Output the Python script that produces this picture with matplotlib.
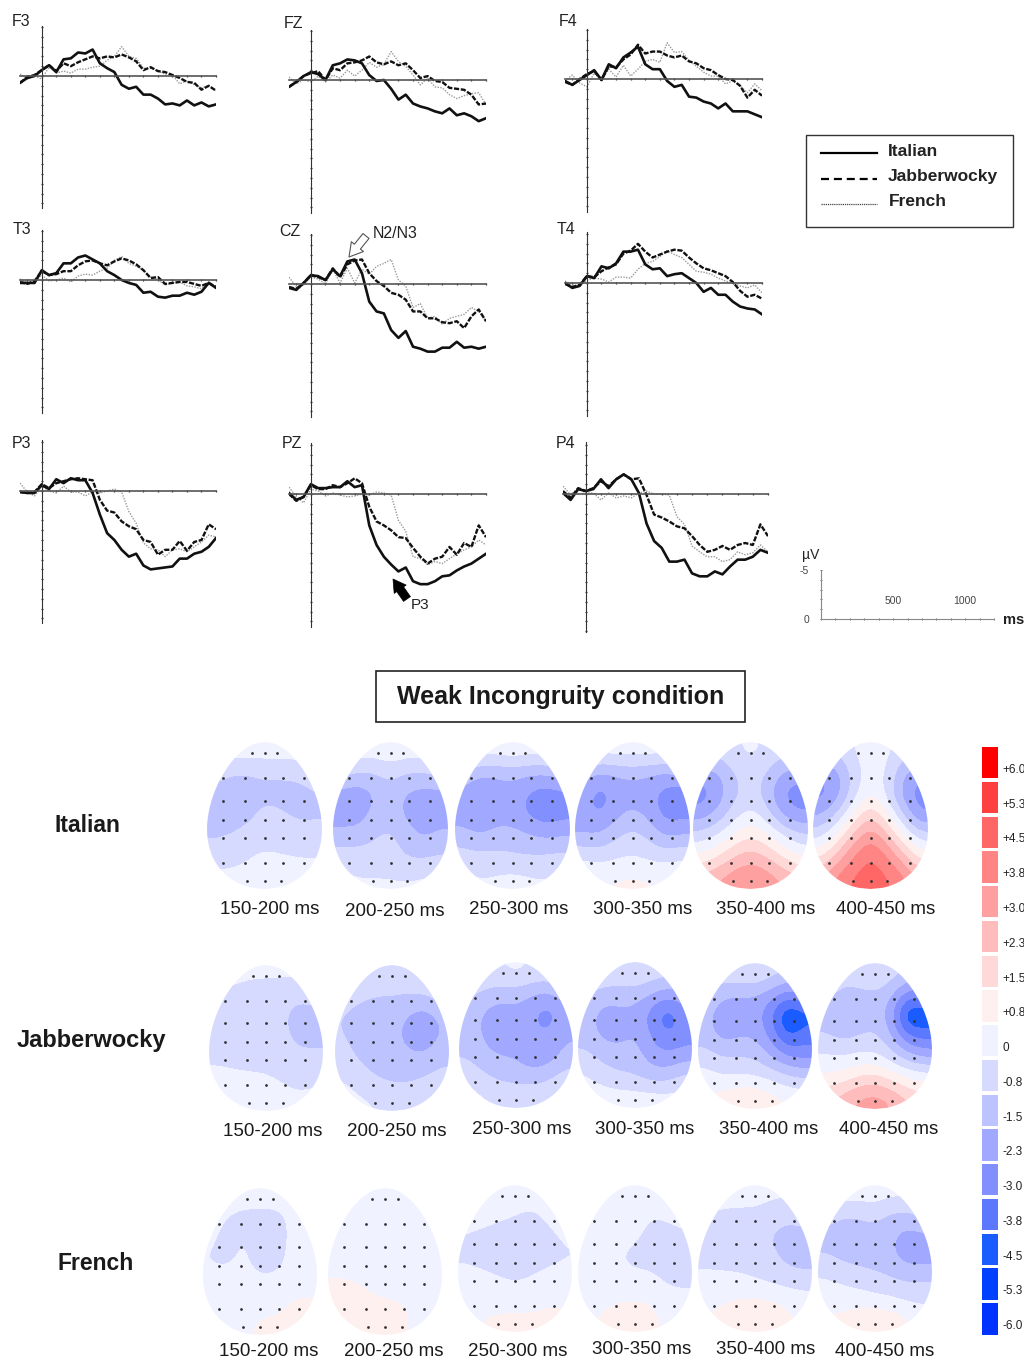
import numpy as np
import matplotlib
matplotlib.use("Agg")
import matplotlib.pyplot as plt
from matplotlib.colors import BoundaryNorm, ListedColormap
from matplotlib.patches import Polygon, Rectangle

plt.rcParams['font.family'] = ['Liberation Sans', 'DejaVu Sans']

# ERP samples, one every 50 ms from -150 to 1200 ms, in microvolt (negative is up)
TIMES = np.arange(-150, 1201, 50)

F3_ITALIAN = [.7, .2, 0, -.6, -1.1, -.4, -1.7, -1.8, -2.4, -2.3, -2.7, -1.3, -.8, -.4, .9, 1.3, 1.1, 1.9, 1.9, 2.3, 2.9, 2.8, 3, 2.5, 3, 2.7, 3.1, 2.9]
F3_JABBER = [.7, .1, -.1, -.6, -1.1, -.5, -1.3, -1, -1.4, -1.7, -2, -1.8, -2, -1.9, -2.2, -1.9, -1.5, -.6, -.9, -.5, -.4, -.1, .2, .6, .7, 1.4, 1, 1.5]
F3_FRENCH = [-.2, .3, 0, .3, -.9, -.3, -.5, -.3, -.7, -.7, -.9, -1, -1.6, -2, -3, -2, -1.8, -.8, -.8, -.5, -.2, -.1, .8, .5, .9, 1.2, 1, 1.5]

FZ_ITALIAN = [.7, .2, -.4, -.8, -.6, 0, -1.5, -1.7, -2.1, -2, -1.7, -.5, .1, 0, .9, 2, 1.5, 2.4, 2.7, 2.9, 3.2, 3.4, 2.9, 3.6, 3.4, 3.7, 4.2, 3.9]
FZ_JABBER = [.7, .2, -.4, -.7, -.9, 0, -1.2, -1, -1.7, -1.8, -2, -2.4, -1.8, -1.6, -1.9, -1.5, -1.7, -1, -.2, -.4, .1, .2, .8, .9, 1, 1.5, 2.5, 2.4]
FZ_FRENCH = [-.3, .4, 0, .2, -.4, .2, -.5, -.2, -1, -.4, -1, -1.8, -1.3, -1.6, -2.9, -1.9, -1.4, -.5, .5, -.2, .7, .8, 1.5, 1.9, 1.6, 1.4, 1.3, 2.5]

F4_ITALIAN = [.2, .6, .1, -.4, -.9, .1, -1.5, -1.1, -2.2, -2.7, -3.3, -1.5, -1, -1, .2, .8, .6, 1.8, 1.9, 2.3, 2.5, 3, 2.5, 3.3, 3.3, 3.3, 3.6, 3.9]
F4_JABBER = [.3, .6, 0, -.5, -.8, .1, -1.3, -1.2, -2, -2.5, -3.5, -2.6, -2.8, -2.8, -2.4, -2.2, -2.4, -1.8, -1.6, -1.1, -.9, -.4, 0, .1, .7, 1.9, 1.1, 1.7]
F4_FRENCH = [.2, -.4, .4, .8, -.6, .1, -1, -.2, -1.4, -.3, -1, -1.8, -2, -1.7, -3.7, -2.7, -2.8, -1.9, -1.3, -.7, -.3, -.3, .5, .2, .7, 1.4, .5, 1.2]

T3_ITALIAN = [.3, .3, .3, -1, -.5, -.7, -1.7, -1.7, -2.3, -2.5, -2.1, -1.7, -.9, -.5, 0, .3, .5, 1.3, 1.2, 1.7, 1.8, 1.6, 1.6, 1.3, 1.5, 1.2, .3, .8]
T3_JABBER = [.2, .4, .1, -.9, -.5, -.6, -.9, -.9, -1.5, -1.9, -2, -1.7, -1.5, -1.9, -2.2, -2, -1.6, -1, -.2, -.3, .4, .3, .2, .2, .4, .6, .3, .7]
T3_FRENCH = [-.1, .3, .1, -.5, .1, 0, -.2, .2, -.4, -.6, -.5, -.9, -1.2, -2, -2.4, -1.7, -1.4, -1, -.3, 0, .5, .3, .2, .6, .7, .9, .2, .9]

CZ_ITALIAN = [.4, .6, -.1, -.9, -.8, -.4, -1.5, -.8, -2.3, -2.5, -1.1, 1.8, 2.8, 3, 4.7, 5.5, 4.8, 6.4, 6.6, 6.9, 6.9, 6.5, 6.5, 5.9, 6.5, 6.4, 6.6, 6.4]
CZ_JABBER = [.3, .5, -.1, -.9, -.7, -.4, -1.6, -.7, -2, -2.4, -2.5, -1.1, -.3, .2, .9, 1.1, 1.6, 2.8, 2.8, 3.5, 3.5, 3.9, 4, 3.8, 4.5, 3.3, 2.6, 3.8]
CZ_FRENCH = [-.7, .3, .1, -.7, -.5, 0, -1.5, -.1, -1.6, -.1, -1.5, -1, -1.8, -2.1, -2.5, -.4, .2, 2.4, 2, 3.5, 3.3, 4.1, 3.5, 3.3, 3.1, 2.4, 2.8, 3.8]

T4_ITALIAN = [0, .5, .3, -.7, -.5, -1.7, -1.5, -2, -3.2, -3.2, -3.4, -1.9, -1.4, -1.5, -.7, -.9, -1, -.5, 0, .9, .5, 1.2, 1.2, 1.9, 2.4, 2.6, 2.7, 3.2]
T4_JABBER = [.1, .4, .2, -.7, -.6, -1.2, -1.6, -1.9, -3, -3.3, -4, -3.2, -2.6, -2.9, -3.2, -3.4, -3.3, -2.6, -2, -1.5, -1.3, -1, -.7, -.1, .8, 1.4, 1.2, 1.6]
T4_FRENCH = [-.2, .2, .3, -.3, -.5, -.4, -.1, -.6, -.6, -.5, -1.4, -2, -2.2, -2.7, -3.3, -2.9, -2.6, -1.9, -1.2, -1.1, -.9, -.5, -.2, 0, .3, .5, .2, 1]

P3_ITALIAN = [.1, .2, .2, -.6, -.2, -1.2, -.8, -1.3, -1.1, -1.1, .2, 2.4, 4.3, 5, 6, 6.7, 6.4, 7.6, 8, 7.9, 7.8, 7.7, 6.9, 6.9, 6.4, 6.2, 5.7, 4.8]
P3_JABBER = [.1, .2, .1, -.7, -.3, -.8, -1, -1.2, -1.3, -1.2, -1.1, .9, 2, 2.2, 3.1, 3.6, 3.9, 5, 5.2, 6.5, 6, 6, 5.1, 6.1, 5.2, 5, 3.4, 3.9]
P3_FRENCH = [-.8, .1, .5, -.5, 0, .2, -.5, .1, .1, .5, .1, .2, 0, -.2, .1, 2.1, 3.3, 5.3, 5.9, 6, 6.7, 6, 5.9, 6.2, 5.7, 5.2, 4.5, 4.7]

PZ_ITALIAN = [-.1, .6, .3, -1, -.6, -.6, -.7, -.7, -1.3, -.7, -.9, 3.2, 5.2, 6.4, 7.2, 7.9, 7.5, 8.9, 9.2, 9.2, 8.9, 8.4, 8.3, 7.8, 7.4, 7.1, 6.6, 6.1]
PZ_JABBER = [0, .7, .3, -.9, -.5, -.5, -.9, -.7, -1.1, -1.6, -1.1, 1.3, 2.8, 3.2, 3.7, 4.4, 4.5, 5.5, 6.4, 7.1, 6.6, 6.4, 5.4, 6.2, 5, 5.4, 3.2, 4.4]
PZ_FRENCH = [-.7, .3, .9, -.5, -.3, .2, -.1, .1, .3, .2, 0, .1, -.2, -.1, .1, 2.7, 3.8, 6.4, 6.6, 7.2, 6.9, 7.1, 6.6, 6.1, 5.7, 5.4, 4.7, 5.2]

P4_ITALIAN = [-.1, .6, -.5, -.3, -.5, -1.5, -.6, -1.5, -2, -1.5, -.1, 3, 4.8, 5.5, 6.9, 6.9, 6.7, 8.1, 8.4, 8.4, 7.9, 8.2, 7.4, 6.7, 6.7, 6.4, 5.7, 6]
P4_JABBER = [-.3, .4, -.6, -.3, -.6, -1.3, -.8, -1.5, -2, -1.5, -1.6, .1, 2.1, 2.4, 2.8, 3.3, 3.5, 4.3, 5.2, 5.9, 5.7, 5.3, 5.7, 5.2, 5, 5.2, 3.1, 4.3]
P4_FRENCH = [-.8, .1, -.6, -.1, -.1, .6, -.1, .4, .2, .4, -.1, -.3, 0, 0, .1, 2.3, 3.1, 5.3, 5.9, 6.4, 6.4, 6.9, 6.7, 5.9, 6.2, 6, 5.2, 5.9]

# scalp maps, in colour steps of the scale (one step is about 0.75 microvolt)
IT_150 = [[0, 0, 0, 0, 0, 0, 0], [-1.2, -1.6, -1.6, -1.4, -1.4, -1.3, -1], [-1.8, -2, -2, -1.8, -1.9, -1.9, -1.6], [-1.9, -2.1, -1.8, -1.1, -1.3, -1.7, -1.7], [-1.6, -1.4, -1, -1, -1, -1, -1], [-1, -.9, -.6, -.2, -.4, -.5, -.5], [-.1, -.1, 0, .2, .2, 0, -.1]]
IT_200 = [[0, 0, 0, .2, 0, 0, 0], [-1, -1.6, -1.6, -1.1, -1.6, -1.6, -1.2], [-3.1, -3.3, -2.6, -2, -2.7, -3, -3], [-3.1, -3.1, -2.1, -1.9, -2.8, -3.1, -3], [-2, -2, -1.6, -1.2, -2, -2.7, -2.2], [-1, -1, -1, -1, -1.6, -1.6, -1.4], [-.2, -.4, -.4, -.4, -.4, -.3, -.2]]
IT_250 = [[0, 0, 0, .2, 0, 0, 0], [-1.5, -2.4, -2.5, -2.2, -2.5, -2.5, -2], [-3, -3.8, -3, -3, -3.7, -4.2, -3.9], [-3, -3.6, -3, -3, -3.7, -4.2, -3.9], [-2, -2.4, -2, -2, -2.3, -2.6, -2.4], [-1, -1.2, -1.2, -1.4, -1.4, -1.3, -1.2], [-.2, -.4, -.3, -.1, -.3, -.4, -.2]]
IT_300 = [[0, 0, 0, 0, 0, 0, 0], [-2, -2.8, -2.5, -2.2, -2.5, -2.8, -2.2], [-3, -4.2, -3.2, -3.2, -3.2, -4, -4.4], [-3.2, -3.6, -2.8, -2, -2.8, -4, -3.8], [-2.4, -2.4, -1.6, -1.1, -1.6, -2.6, -2.4], [-.5, -.8, -.6, -.4, -.7, -.8, -.5], [.3, .4, .6, .7, .6, .4, .3]]
IT_350 = [[-1, -1, -.7, -.2, -.7, -1, -1], [-3, -2.8, -1.5, -1, -1.5, -2.8, -3], [-4.2, -3.2, -1.8, -1, -2, -3.8, -4.2], [-3, -2.2, -.9, 0, -1, -2.8, -3.4], [-1, -.4, .8, 1.5, .8, -.3, -1.2], [.8, 1.6, 2.6, 3.2, 2.6, 1.5, .5], [3, 3.6, 4.2, 4.6, 4.2, 3.5, 3]]
IT_400 = [[-1.5, -1.3, -.4, 0, -.2, -1, -1.5], [-3.5, -3, -1, 0, -.5, -2.5, -3.3], [-4, -3, -1, .7, -.8, -3, -4.2], [-2.6, -1.4, .9, 2.6, .9, -1.6, -3.5], [-.8, 1, 3, 4.5, 3, .8, -1], [1.5, 3, 4.8, 5.7, 4.8, 3, 1.2], [3.5, 5, 5.7, 6.1, 5.7, 5, 3.5]]

JA_150 = [[0, 0, -.3, -.3, -.3, -.3, 0], [-.6, -1, -1, -1, -1.1, -1.3, -1], [-1, -1.1, -1.1, -1.1, -1.3, -2, -2], [-1, -1.1, -1, -1, -1.2, -1.8, -1.9], [-.7, -.8, -.8, -.9, -1, -1.2, -1.1], [-.1, -.2, -.3, -.3, -.6, -.9, -.8], [0, 0, 0, 0, 0, -.2, 0]]
JA_200 = [[0, -.4, -.6, -.6, -.6, -.5, 0], [-1, -1.2, -1.5, -1.5, -1.6, -1.5, -1], [-1.5, -2, -2.2, -2.2, -2.6, -3.2, -2.3], [-1.4, -2, -2.2, -2.3, -2.7, -3.2, -2.4], [-1, -1.6, -2, -2.2, -2.3, -2.3, -1.8], [-.5, -1, -1.4, -1.7, -1.7, -1.4, -1], [0, -.3, -.5, -.7, -.6, -.5, -.2]]
JA_250 = [[0, -.4, -.6, -.2, -.6, -.6, 0], [-1.2, -1.8, -2, -2, -2.4, -2.8, -1.8], [-2, -2.6, -3.2, -2.8, -3.5, -4.2, -3], [-2, -2.6, -3.3, -2.8, -3.2, -3.4, -2.6], [-1.6, -2.2, -2.5, -2.6, -3.1, -3.1, -2.2], [-.7, -1.3, -1.8, -2, -2.2, -1.8, -1], [0, -.4, -.5, -.6, -.5, -.4, 0]]
JA_300 = [[-.3, -.5, -.6, -.4, -.8, -1, -.8], [-1.3, -2, -2, -2, -2.4, -3, -2.6], [-2, -3, -2.8, -2.8, -4, -5.5, -4], [-2, -2.8, -3, -2.4, -3.6, -4.6, -4], [-1.2, -1.8, -2, -2, -3, -3.3, -3], [-.3, -1, -1.4, -1.5, -2, -2, -1.2], [0, .2, .1, .1, .1, 0, 0]]
JA_350 = [[-.5, -.8, -.6, -.4, -1, -1.4, -1.4], [-1.5, -2.4, -2.5, -2.5, -3, -4, -3.5], [-2.2, -3.2, -3.2, -3, -4.5, -7, -6], [-2, -3, -2.6, -2.6, -3.8, -5.8, -5], [-1, -1.5, -1.5, -1.6, -2.5, -3.5, -3.8], [0, -.4, -.3, -.4, -.7, -1.2, -1.5], [.8, 1, 1.5, 1.6, 1, .5, .3]]
JA_400 = [[-.5, -.8, -.6, -.4, -1, -1.5, -1.5], [-1, -2, -2, -1.7, -2.2, -4, -4], [-2, -2.6, -2.2, -2, -3, -7, -6.5], [-1.4, -1.8, -1.6, -1.2, -2.4, -4.5, -5], [-.3, -.5, -.2, -.3, -1, -2, -2.6], [.6, 1, 1.6, 2, 1.2, .5, .2], [2.5, 3, 3.8, 4, 3.6, 2.6, 2]]

FR_150 = [[0, 0, 0, 0, 0, 0, 0], [0, -.6, -1, -1, -1, -.2, 0], [-.3, -1, -.3, -1.1, -1, -.2, 0], [-.6, -.7, -.2, -1, -.9, -.1, 0], [0, 0, 0, -.2, -.1, 0, .2], [0, 0, 0, 0, .2, .7, .7], [0, 0, .3, .7, .8, .7, .3]]
FR_200 = [[0, 0, 0, 0, 0, 0, 0], [0, 0, 0, 0, 0, 0, 0], [0, 0, 0, 0, 0, 0, 0], [0, 0, 0, 0, 0, 0, 0], [.7, .6, .3, 0, 0, 0, 0], [.8, .9, .8, .7, .6, .3, 0], [.3, .6, .8, .9, .7, .2, 0]]
FR_250 = [[0, 0, 0, 0, 0, 0, 0], [0, 0, -.3, -.5, -.8, -.3, 0], [-.6, -.9, -1, -1, -1.1, -.8, -.4], [-.7, -.9, -1, -1.1, -1, -.8, -.6], [0, -.1, -.4, -.6, -.4, -.1, 0], [0, 0, .1, .1, .1, .4, .5], [.2, .6, .8, .8, .8, .8, .5]]
FR_300 = [[0, .2, .3, 0, 0, 0, 0], [0, 0, 0, 0, -.5, -.3, 0], [-.7, -.1, -.1, -.3, -.9, -1, -.8], [-.1, -.1, -.5, -.9, -.9, -1, -1], [0, 0, 0, -.1, -.2, -.8, -.9], [0, .2, .5, .5, .5, .1, 0], [.2, .8, .9, .9, .8, .2, 0]]
FR_350 = [[0, 0, 0, -.1, -.3, -.3, 0], [-.6, -.8, -.9, -.8, -1, -1.3, -1], [-1, -1, -1, -1.1, -1.6, -2, -2], [-.8, -.9, -.9, -1, -1.2, -1.8, -2], [-.2, -.2, -.3, -.5, -.8, -1, -1.1], [.1, .4, .6, .6, .6, .3, 0], [.7, .9, 1.2, 1.6, 1.4, .7, .4]]
FR_400 = [[0, 0, 0, 0, -.2, -.2, 0], [-1, -1.6, -1.6, -1.2, -1.8, -2, -1.2], [-2, -2.1, -2, -2, -2.4, -3, -3], [-1.3, -1.7, -1.9, -2, -2.3, -3, -2.9], [-.4, -.7, -.9, -1.1, -1.4, -1.6, -1.6], [.2, .1, 0, -.2, -.3, -.6, -.6], [.7, .8, 1.4, 1.6, 1.4, .7, 0]]

WINDOWS = ['150-200 ms', '200-250 ms', '250-300 ms', '300-350 ms', '350-400 ms', '400-450 ms']
GROUPS = ['Italian', 'Jabberwocky', 'French']
SCALE_LABELS = ['+6.0', '+5.3', '+4.5', '+3.8', '+3.0', '+2.3', '+1.5', '+0.8', '0', '-0.8', '-1.5', '-2.3', '-3.0', '-3.8', '-4.5', '-5.3', '-6.0']
SCALE_COLORS = ['#ff0000', '#ff4040', '#ff6666', '#ff8585', '#ffa0a0', '#ffbcbc', '#ffd8d8', '#fff0f0', '#f1f2ff', '#d6daff', '#bcc3ff', '#a0a9ff', '#8290ff', '#5c78ff', '#1a5cff', '#0040ff', '#0033ff']

# electrode rows and columns as fractions of the map box
ROW_POS = [.245, .40, .53, .65, .82]
COL_POS = [.14, .33, .5, .665, .84]
TOP_POS = [.39, .5, .61]
BOTTOM_POS = [.35, .5, .645]
EDGE_ROWS = [.075, .945]

W, H = 1024, 1360
fig = plt.figure(figsize=(W / 100, H / 100), dpi=100, facecolor='white')


def box_axes(left, top, right, bottom):
    return fig.add_axes([left / W, 1 - bottom / H, (right - left) / W, (bottom - top) / H])


# whole page in pixels, for the loose text
page = fig.add_axes([0, 0, 1, 1])
page.set_xlim(0, W)
page.set_ylim(H, 0)
page.axis('off')

cmap = ListedColormap(SCALE_COLORS[::-1])
norm = BoundaryNorm(np.arange(-8.5, 9.5, 1), cmap.N)


def draw_panel(name, series, left, right, axis_top, base, axis_bottom, name_x, name_y):
    px = 9.8
    ax = box_axes(left, axis_top, right, axis_bottom)
    ax.set_xlim(TIMES[0], TIMES[-1])
    ax.set_ylim((axis_bottom - base) / px, -(base - axis_top) / px)
    ax.patch.set_alpha(0)
    ax.plot(TIMES, series[2], color='#9a9a9a', lw=1.0, ls=(0, (1, 1)))
    ax.plot(TIMES, series[1], color='#111111', lw=1.7, ls=(0, (2.2, 0.7)))
    ax.plot(TIMES, series[0], color='#111111', lw=1.9)
    for s in ['top', 'right']:
        ax.spines[s].set_visible(False)
    ax.spines['left'].set_position(('data', 0))
    ax.spines['bottom'].set_position(('data', 0))
    ax.spines['left'].set_color('#333333')
    ax.spines['bottom'].set_color('#555555')
    ax.spines['bottom'].set_linewidth(1.2)
    ax.set_xticks(np.arange(-100, 1201, 100))
    ax.set_yticks(np.arange(np.ceil(ax.get_ylim()[1]), ax.get_ylim()[0], 1))
    ax.tick_params(length=1.8, width=0.9, direction='inout', color='#333333', labelbottom=False, labelleft=False)
    page.text(name_x, name_y, name, fontsize=11.5, ha='left', va='center', color='#222222')


draw_panel('F3', [F3_ITALIAN, F3_JABBER, F3_FRENCH], 20, 216, 26, 76, 208, 12, 21)
draw_panel('FZ', [FZ_ITALIAN, FZ_JABBER, FZ_FRENCH], 289, 486, 30, 80, 213, 284, 23)
draw_panel('F4', [F4_ITALIAN, F4_JABBER, F4_FRENCH], 565, 762, 29, 79, 212, 559, 21)
draw_panel('T3', [T3_ITALIAN, T3_JABBER, T3_FRENCH], 20, 216, 230, 280, 413, 13, 230)
draw_panel('CZ', [CZ_ITALIAN, CZ_JABBER, CZ_FRENCH], 289, 486, 234, 284, 417, 279, 231)
draw_panel('T4', [T4_ITALIAN, T4_JABBER, T4_FRENCH], 565, 762, 232, 283, 416, 557, 229)
draw_panel('P3', [P3_ITALIAN, P3_JABBER, P3_FRENCH], 20, 216, 440, 491, 623, 12, 443)
draw_panel('PZ', [PZ_ITALIAN, PZ_JABBER, PZ_FRENCH], 289, 486, 443, 494, 627, 282, 443)
draw_panel('P4', [P4_ITALIAN, P4_JABBER, P4_FRENCH], 563, 768, 442, 494, 632, 556, 443)

# arrows for the two components
page.text(373, 233, 'N2/N3', fontsize=11.5, ha='left', va='center', color='#222222')
page.annotate('', xy=(349, 257), xytext=(366, 236),
              arrowprops=dict(arrowstyle='simple,head_width=0.7,head_length=0.6,tail_width=0.35', fc='white', ec='#555555', lw=0.8, mutation_scale=16, shrinkA=0, shrinkB=0))
page.text(411, 605, 'P3', fontsize=11, ha='left', va='center', color='#222222')
page.annotate('', xy=(393, 579), xytext=(407, 599),
              arrowprops=dict(arrowstyle='simple,head_width=0.7,head_length=0.6,tail_width=0.4', fc='black', ec='black', lw=0.5, mutation_scale=15, shrinkA=0, shrinkB=0))

# legend box
page.add_patch(Rectangle((806, 135), 207, 92, fc='white', ec='#333333', lw=1))
page.plot([821, 877], [153, 153], color='black', lw=1.6)
page.plot([821, 877], [179, 179], color='black', lw=1.6, ls=(0, (3.6, 2.2)))
page.plot([821, 877], [204, 204], color='#444444', lw=0.9, ls=(0, (1, 0.7)))
page.text(888, 151, 'Italian', fontsize=12.5, fontweight='bold', va='center', color='#222222')
page.text(888, 177, 'Jabberwocky', fontsize=12.5, fontweight='bold', va='center', color='#222222')
page.text(889, 202, 'French', fontsize=12.5, fontweight='bold', va='center', color='#222222')

# calibration bar
cal = box_axes(821, 570, 994, 619)
cal.set_xlim(0, 1200)
cal.set_ylim(0, -5)
cal.patch.set_alpha(0)
for s in ['top', 'right']:
    cal.spines[s].set_visible(False)
for s in ['left', 'bottom']:
    cal.spines[s].set_color('#888888')
    cal.spines[s].set_linewidth(0.8)
cal.set_xticks(np.arange(0, 1201, 100))
cal.set_yticks(np.arange(-5, 1, 1))
cal.tick_params(length=2, width=0.7, direction='inout', color='#666666', labelbottom=False, labelleft=False)
cal.text(500, -1.85, '500', fontsize=7.5, ha='center', va='center', color='#444444')
cal.text(1000, -1.85, '1000', fontsize=7.5, ha='center', va='center', color='#444444')
page.text(802, 555, 'µV', fontsize=10, va='center', color='#222222')
page.text(804, 571, '-5', fontsize=7.5, ha='center', va='center', color='#444444')
page.text(806, 620, '0', fontsize=7.5, ha='center', va='center', color='#444444')
page.text(1003, 620, 'ms', fontsize=10.5, fontweight='bold', va='center', color='#222222')

# title
page.add_patch(Rectangle((376, 671), 369, 51, fc='white', ec='#222222', lw=1.2))
page.text(561, 697, 'Weak Incongruity condition', fontsize=18, fontweight='bold', ha='center', va='center', color='#1a1a1a')


def egg_outline():
    # egg with its wide end towards the bottom, in map fractions
    y = np.linspace(-1, 1, 120)
    half = np.sqrt(1 - y ** 2) * (1 + 0.2 * y) / 1.02
    xs = np.r_[0.5 - half / 2, (0.5 + half / 2)[::-1]]
    ys = np.r_[(y + 1) / 2, ((y + 1) / 2)[::-1]]
    return np.c_[xs, ys]


def draw_map(values, left, top, right, bottom):
    ax = box_axes(left, top, right, bottom)
    ax.set_xlim(0, 1)
    ax.set_ylim(1, 0)
    ax.axis('off')
    im = ax.imshow(values, extent=(0, 1, 1, 0), cmap=cmap, norm=norm, aspect='auto',
                   interpolation='bicubic', interpolation_stage='data')
    egg = Polygon(egg_outline(), closed=True, transform=ax.transData, fc='none', ec='none')
    ax.add_patch(egg)
    im.set_clip_path(egg)
    ax.scatter(np.tile(COL_POS, len(ROW_POS)), np.repeat(ROW_POS, len(COL_POS)), s=4, color='#333333', lw=0)
    ax.scatter(TOP_POS, [EDGE_ROWS[0]] * 3, s=4, color='#333333', lw=0)
    ax.scatter(BOTTOM_POS, [EDGE_ROWS[1]] * 3, s=4, color='#333333', lw=0)


IT_MAPS = [IT_150, IT_200, IT_250, IT_300, IT_350, IT_400]
JA_MAPS = [JA_150, JA_200, JA_250, JA_300, JA_350, JA_400]
FR_MAPS = [FR_150, FR_200, FR_250, FR_300, FR_350, FR_400]

it_left = [207, 333, 455, 575, 693, 813]
ja_left = [209, 335, 459, 578, 698, 818]
fr_left = [203, 328, 458, 578, 698, 818]
ja_top = [965, 965, 962, 962, 963, 963]
fr_top = [1188, 1188, 1185, 1185, 1185, 1185]
it_label_x = [270, 395, 519, 643, 766, 886]
ja_label_x = [273, 397, 522, 645, 769, 889]
fr_label_x = [269, 394, 518, 642, 766, 885]
it_label_y = [908, 909, 908, 907, 907, 908]
ja_label_y = [1130, 1130, 1128, 1127, 1127, 1128]
fr_label_y = [1350, 1350, 1349, 1348, 1348, 1350]

for i in range(6):
    draw_map(IT_MAPS[i], it_left[i], 742, it_left[i] + 115, 889)
    draw_map(JA_MAPS[i], ja_left[i], ja_top[i], ja_left[i] + 114, ja_top[i] + 146)
    draw_map(FR_MAPS[i], fr_left[i], fr_top[i], fr_left[i] + 114, fr_top[i] + 147)
    page.text(it_label_x[i], it_label_y[i] + 2, WINDOWS[i], fontsize=13.5, ha='center', va='center', color='#1a1a1a')
    page.text(ja_label_x[i], ja_label_y[i] + 2, WINDOWS[i], fontsize=13.5, ha='center', va='center', color='#1a1a1a')
    page.text(fr_label_x[i], fr_label_y[i] + 2, WINDOWS[i], fontsize=13.5, ha='center', va='center', color='#1a1a1a')

page.text(87, 825, GROUPS[0], fontsize=16.5, fontweight='bold', ha='center', va='center', color='#1a1a1a')
page.text(91, 1040, GROUPS[1], fontsize=17, fontweight='bold', ha='center', va='center', color='#1a1a1a')
page.text(96, 1264, GROUPS[2], fontsize=16.5, fontweight='bold', ha='center', va='center', color='#1a1a1a')

# colour scale, labels kept just inside the right edge of the page
bar = box_axes(982, 747, 998, 1338)
bar.set_xlim(0, 1)
bar.set_ylim(17, 0)
bar.axis('off')
bar.barh(np.arange(17) + 0.45, 1, height=0.9, color=SCALE_COLORS)
for i, lab in enumerate(SCALE_LABELS):
    bar.text(1.3, i + 0.66, lab, fontsize=8.5, ha='left', va='center', color='#222222', clip_on=False)

fig.savefig('out.png', dpi=100)
